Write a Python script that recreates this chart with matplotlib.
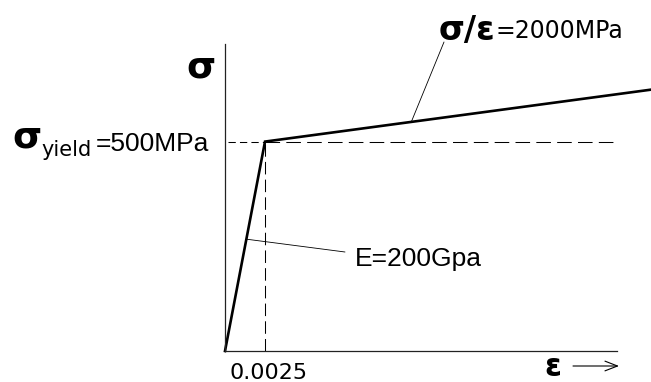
import numpy as np
import matplotlib.pyplot as plt

# bilinear stress-strain model, stress in MPa
strain = [0.0, 0.0025, 0.0645]
stress = [0.0, 500.0, 624.0]
yield_strain = 0.0025
yield_stress = 500.0
elastic_label = 'E=200Gpa'
hardening_label = '=2000MPa'
yield_label = '=500MPa'
strain_tick = '0.0025'

W, H = 651, 382

# schematic strain axis: elastic branch stretched, plastic branch squeezed
ELASTIC_W = 40.0
PLASTIC_W = 386.0
PLASTIC_SPAN = 0.062


def fwd(x):
    x = np.asarray(x, dtype=float)
    return np.where(x <= yield_strain, x / yield_strain * ELASTIC_W,
                    ELASTIC_W + (x - yield_strain) / PLASTIC_SPAN * PLASTIC_W)


def inv(u):
    u = np.asarray(u, dtype=float)
    return np.where(u <= ELASTIC_W, u / ELASTIC_W * yield_strain,
                    yield_strain + (u - ELASTIC_W) / PLASTIC_W * PLASTIC_SPAN)


def fig_xy(x, y):
    # pixel position measured from the top-left corner -> figure fraction
    return x / W, 1 - y / H


fig = plt.figure(figsize=(W / 100, H / 100), dpi=100)
ax = fig.add_axes([225 / W, 31 / H, 392 / W, 307 / H])
ax.set_xscale('function', functions=(fwd, inv))
ax.set_xlim(0, float(inv(392)))
ax.set_ylim(0, 733)

for side in ('top', 'right'):
    ax.spines[side].set_visible(False)
for side in ('left', 'bottom'):
    ax.spines[side].set_linewidth(0.9)
    ax.spines[side].set_color('#222222')
ax.set_xticks([])
ax.set_yticks([])
ax.patch.set_visible(False)

# yield guides
x0 = float(inv(3))
ax.plot([x0, yield_strain], [yield_stress, yield_stress], color='black',
        lw=0.75, dashes=(7, 4))
ax.plot([yield_strain, ax.get_xlim()[1]], [yield_stress, yield_stress],
        color='black', lw=0.75, dashes=(14, 6))
ax.plot([yield_strain, yield_strain], [0, yield_stress], color='black',
        lw=0.75, dashes=(12, 5))

# the stress-strain curve
ax.plot(strain, stress, color='black', lw=1.9, clip_on=False,
        solid_joinstyle='miter')

# leader lines
e_pt = 267.0 / 200000.0
ax.annotate('', xy=(e_pt, 267.0), xytext=(345, H - 252),
            textcoords='figure pixels',
            arrowprops=dict(arrowstyle='-', lw=0.6, color='black',
                            shrinkA=0, shrinkB=0))
h_pt = 0.026
ax.annotate('', xy=(h_pt, yield_stress + 2000 * (h_pt - yield_strain)),
            xytext=(444, H - 42), textcoords='figure pixels',
            arrowprops=dict(arrowstyle='-', lw=0.6, color='black',
                            shrinkA=0, shrinkB=0))

sym = dict(family='DejaVu Sans', fontweight='bold', color='black')
txt = dict(family='Liberation Sans', color='black')

# axis symbols
fig.text(*fig_xy(201, 78), 'σ', fontsize=27, ha='center', va='baseline', **sym)
fig.text(*fig_xy(553, 376), 'ε', fontsize=22, ha='center', va='baseline', **sym)
ax.annotate('', xy=(619, H - 366), xytext=(573, H - 366),
            xycoords='figure pixels', textcoords='figure pixels',
            arrowprops=dict(arrowstyle='->,head_length=0.9,head_width=0.35',
                            lw=0.8, color='black', shrinkA=0, shrinkB=0))

# yield stress label
fig.text(*fig_xy(12, 147), 'σ', fontsize=27, ha='left', va='baseline', **sym)
fig.text(*fig_xy(41, 156), 'yield', fontsize=15, ha='left', va='baseline',
         family='DejaVu Sans')
fig.text(*fig_xy(96, 151), yield_label, fontsize=19, ha='left',
         va='baseline', **txt)

# hardening slope label
fig.text(*fig_xy(439, 40), 'σ/ε', fontsize=24, ha='left', va='baseline', **sym)
fig.text(*fig_xy(496, 38), hardening_label, fontsize=17, ha='left',
         va='baseline', family='DejaVu Sans')

# elastic modulus label
fig.text(*fig_xy(355, 266), elastic_label, fontsize=19, ha='left',
         va='baseline', **txt)

# yield strain tick label
fig.text(*fig_xy(269, 379), strain_tick, fontsize=16, ha='center',
         va='baseline', family='DejaVu Sans')

fig.savefig('out.png', dpi=100)
